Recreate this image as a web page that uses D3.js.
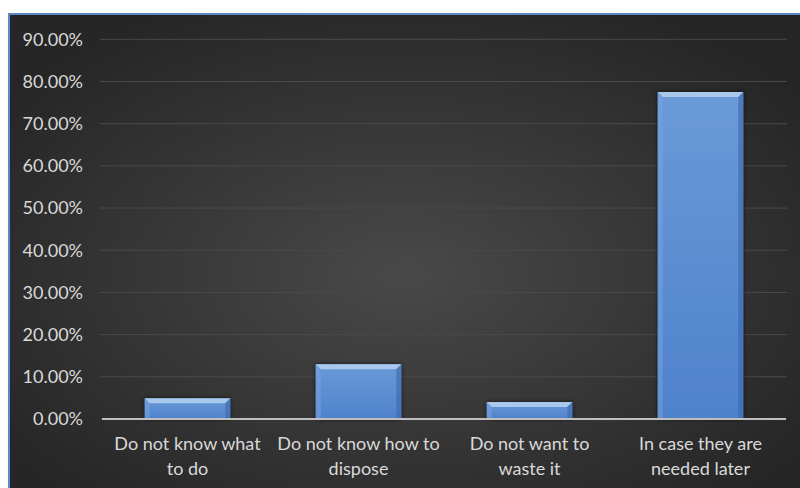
<!DOCTYPE html>
<html><head><meta charset="utf-8">
<script src="https://cdn.jsdelivr.net/npm/d3@7"></script>
<style>body{margin:0;background:#fff}svg{display:block}</style>
</head><body>
<svg id="c" width="800" height="488"></svg>
<script>
const categories = [["Do not know what","to do"],["Do not know how to","dispose"],["Do not want to","waste it"],["In case they are","needed later"]];
const values = [4.9, 13.0, 4.0, 77.5];
const yTicks = [0,10,20,30,40,50,60,70,80,90];

const svg = d3.select("#c");
const defs = svg.append("defs");
const rg = defs.append("radialGradient").attr("id","bg").attr("cx","0.5").attr("cy","0.55").attr("r","0.62");
rg.append("stop").attr("offset","0").attr("stop-color","#494949");
rg.append("stop").attr("offset","1").attr("stop-color","#262626");
const lg = defs.append("linearGradient").attr("id","bar").attr("x1",0).attr("y1",0).attr("x2",0).attr("y2",1);
lg.append("stop").attr("offset","0").attr("stop-color","#6a9ad8");
lg.append("stop").attr("offset","1").attr("stop-color","#4f82cc");
const f = defs.append("filter").attr("id","sh").attr("x","-20%").attr("y","-20%").attr("width","140%").attr("height","140%");
f.append("feDropShadow").attr("dx",0).attr("dy",0).attr("stdDeviation",2).attr("flood-color","#000").attr("flood-opacity",0.7);

// chart area
svg.append("rect").attr("x",8).attr("y",13).attr("width",792).attr("height",475).attr("fill","url(#bg)");
svg.append("rect").attr("x",8).attr("y",13).attr("width",792).attr("height",2).attr("fill","#5b88c6");
svg.append("rect").attr("x",8).attr("y",13).attr("width",2).attr("height",475).attr("fill","#5b88c6");

const x = d3.scaleBand().domain(d3.range(categories.length)).range([102,786]).paddingInner(0.5).paddingOuter(0.25);
const y = d3.scaleLinear().domain([0,90]).range([419,39.3]);

// gridlines
svg.append("g").selectAll("line").data(yTicks.filter(t=>t>0)).join("line")
  .attr("x1",100).attr("x2",787).attr("y1",d=>y(d)).attr("y2",d=>y(d))
  .attr("stroke","#4a4a4a").attr("stroke-width",1);

// y axis labels
const yAxis = d3.axisLeft(y).tickValues(yTicks).tickSize(0).tickPadding(0).tickFormat(d=>d.toFixed(2)+"%");
const ga = svg.append("g").attr("transform","translate(83,0)").call(yAxis);
ga.select(".domain").remove();
ga.selectAll("text").attr("fill","#d9d9d9").attr("font-family","Lato, 'Open Sans', sans-serif").attr("font-size","18px");

// bars
const bw = x.bandwidth();
const bev = 5;
const bars = svg.append("g").selectAll("g").data(values).join("g");
bars.append("rect").attr("x",(d,i)=>x(i)).attr("y",d=>y(d)).attr("width",bw).attr("height",d=>y(0)-y(d))
  .attr("fill","url(#bar)").attr("filter","url(#sh)");
// top bevel highlight
bars.append("path").attr("d",(d,i)=>{const x0=x(i),x1=x0+bw,t=y(d);return `M${x0},${t}L${x1},${t}L${x1-bev},${t+bev}L${x0+bev},${t+bev}Z`;})
  .attr("fill","#b4d0f2").attr("opacity",0.85);
// left bevel
bars.append("path").attr("d",(d,i)=>{const x0=x(i),t=y(d),b=y(0);return `M${x0},${t}L${x0+bev},${t+bev}L${x0+bev},${b}L${x0},${b}Z`;})
  .attr("fill","#7aa6e0").attr("opacity",0.5);
// right bevel
bars.append("path").attr("d",(d,i)=>{const x1=x(i)+bw,t=y(d),b=y(0);return `M${x1},${t}L${x1-bev},${t+bev}L${x1-bev},${b}L${x1},${b}Z`;})
  .attr("fill","#3a68aa").attr("opacity",0.6);

// baseline
svg.append("line").attr("x1",102).attr("x2",786).attr("y1",y(0)).attr("y2",y(0)).attr("stroke","#bfbfbf").attr("stroke-width",2);

// x labels
const xl = svg.append("g").selectAll("text").data(categories).join("text")
  .attr("x",(d,i)=>x(i)+bw/2).attr("y",450).attr("text-anchor","middle")
  .attr("fill","#d9d9d9").attr("font-family","Lato, 'Open Sans', sans-serif").attr("font-size","18px");
xl.selectAll("tspan").data(d=>d).join("tspan").attr("x",function(){return this.parentNode.getAttribute("x");})
  .attr("dy",(d,j)=>j===0?0:25).text(d=>d);
</script>
</body></html>
